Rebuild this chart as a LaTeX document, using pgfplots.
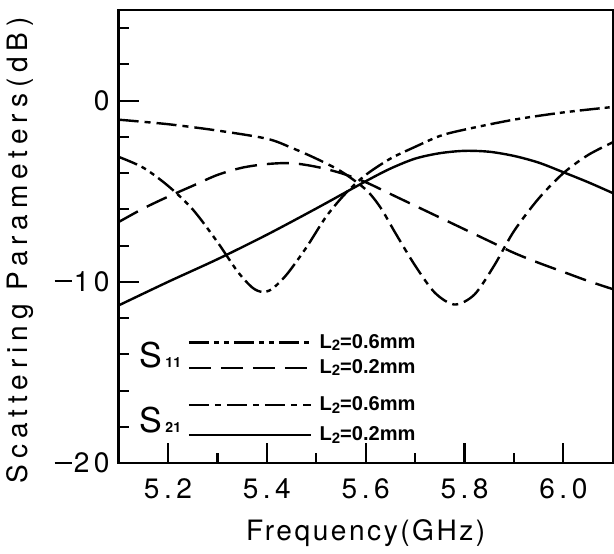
\documentclass[border=0pt]{standalone}
\usepackage{fontspec}
\usepackage{pgfplots}
\pgfplotsset{compat=1.18}
\setmainfont[LetterSpace=16]{TeX Gyre Heros}
\newfontfamily\legfont{Liberation Sans}
\newfontfamily\sfont{TeX Gyre Heros}
\newfontfamily\xlabfont[LetterSpace=9]{TeX Gyre Heros}
\newfontfamily\ylabfont[LetterSpace=21]{TeX Gyre Heros}

\pgfplotstableread{
f     s
5.10 -3.1
5.15 -3.7
5.20 -4.7
5.25 -6.0
5.30 -7.8
5.34 -9.4
5.37 -10.3
5.39 -10.55
5.41 -10.4
5.44 -9.6
5.48 -8.1
5.52 -6.4
5.56 -5.1
5.60 -4.1
5.65 -3.2
5.70 -2.55
5.75 -1.95
5.80 -1.6
5.90 -1.05
6.00 -0.65
6.10 -0.35
}\sonesix
\pgfplotstableread{
f     s
5.10 -6.7
5.15 -5.95
5.20 -5.3
5.25 -4.7
5.30 -4.1
5.35 -3.7
5.40 -3.5
5.45 -3.45
5.50 -3.65
5.55 -4.0
5.60 -4.5
5.65 -5.15
5.70 -5.8
5.75 -6.45
5.80 -7.1
5.85 -7.75
5.90 -8.4
5.95 -8.95
6.00 -9.45
6.05 -9.95
6.10 -10.4
}\sonetwo
\pgfplotstableread{
f     s
5.10 -1.05
5.20 -1.3
5.30 -1.65
5.40 -2.1
5.45 -2.6
5.50 -3.2
5.55 -3.9
5.60 -4.9
5.63 -5.9
5.66 -7.3
5.70 -9.1
5.74 -10.6
5.78 -11.25
5.82 -10.7
5.86 -9.1
5.90 -7.2
5.95 -5.4
6.00 -4.0
6.05 -3.0
6.10 -2.3
}\stwosix
\pgfplotstableread{
f     s
5.10 -11.3
5.20 -10.0
5.30 -8.75
5.40 -7.4
5.50 -5.95
5.60 -4.45
5.65 -3.75
5.70 -3.2
5.75 -2.9
5.80 -2.77
5.85 -2.82
5.90 -3.05
5.95 -3.42
6.00 -3.95
6.05 -4.5
6.10 -5.1
}\stwotwo

\tikzset{
  ddot/.style={line width=1.2pt, dash pattern=on 10pt off 2.5pt on 2.5pt off 2.5pt on 2.5pt off 2.5pt},
  dlong/.style={line width=1.2pt, dash pattern=on 11pt off 5pt},
  ddash/.style={line width=1.2pt, dash pattern=on 10pt off 3pt on 3pt off 3pt},
  dsolid/.style={line width=1.2pt},
  legtext/.style={anchor=west, inner sep=0pt, font=\legfont\bfseries\fontsize{10}{10}\selectfont},
  slab/.style={anchor=base west, inner sep=0pt, font=\sfont\fontsize{17}{17}\selectfont},
}
\newcommand{\Ltwo}[1]{L\raisebox{-1.2pt}{\fontsize{7.5}{8}\selectfont 2}=#1mm}
\newcommand{\mn}{\rule[4.6pt]{8.5pt}{1pt}\hspace{1pt}}

\begin{document}
\begin{tikzpicture}
\begin{axis}[
  scale only axis, width=246.5pt, height=226pt,
  xmin=5.1, xmax=6.1, ymin=-20, ymax=5,
  clip=false,
  axis line style={line width=1.2pt},
  xtick={5.2,5.4,5.6,5.8,6.0}, xticklabels={5.2,5.4,5.6,5.8,6.0},
  minor xtick={5.3,5.5,5.7,5.9},
  ytick={-20,-10,0}, yticklabels={\mn20,\mn10,0},
  minor ytick={-18,-16,...,4},
  xtick pos=lower, ytick pos=lower,
  tick align=inside,
  major tick length=10pt, minor tick length=5pt,
  every tick/.style={line width=1.1pt, black},
  tick label style={font=\fontsize{14}{16}\selectfont},
  xticklabel style={yshift=-4pt},
  yticklabel style={xshift=-1pt},
  xlabel={Frequency(GHz)}, ylabel={Scattering Parameters(dB)},
  xlabel style={at={(axis description cs:0.5,-0.155)}, anchor=center, font=\xlabfont\fontsize{14}{16}\selectfont},
  ylabel style={at={(axis description cs:-0.199,0.47)}, anchor=center, font=\ylabfont\fontsize{14}{16}\selectfont},
]
\addplot[ddot, smooth] table[x=f, y=s] {\sonesix};
\addplot[dlong, smooth] table[x=f, y=s] {\sonetwo};
\addplot[ddash, smooth] table[x=f, y=s] {\stwosix};
\addplot[dsolid, smooth] table[x=f, y=s] {\stwotwo};

% legend
\draw[ddot] (axis cs:5.242,-13.35) -- (axis cs:5.489,-13.35);
\draw[dlong] (axis cs:5.242,-14.74) -- (axis cs:5.489,-14.74);
\draw[ddash] (axis cs:5.242,-16.79) -- (axis cs:5.489,-16.79);
\draw[dsolid] (axis cs:5.242,-18.45) -- (axis cs:5.489,-18.45);
\node[legtext] at (axis cs:5.506,-13.35) {\Ltwo{0.6}};
\node[legtext] at (axis cs:5.506,-14.74) {\Ltwo{0.2}};
\node[legtext] at (axis cs:5.506,-16.79) {\Ltwo{0.6}};
\node[legtext] at (axis cs:5.506,-18.45) {\Ltwo{0.2}};
\node[slab] at (axis cs:5.142,-14.75)
  {S\hspace{1.5pt}{\bfseries\fontsize{7}{7}\selectfont 11}};
\node[slab] at (axis cs:5.142,-18.3)
  {S\hspace{1.5pt}{\bfseries\fontsize{7}{7}\selectfont 21}};
\path (rel axis cs:0,1) -- ++(0pt,5pt);
\end{axis}
\end{tikzpicture}
\end{document}
